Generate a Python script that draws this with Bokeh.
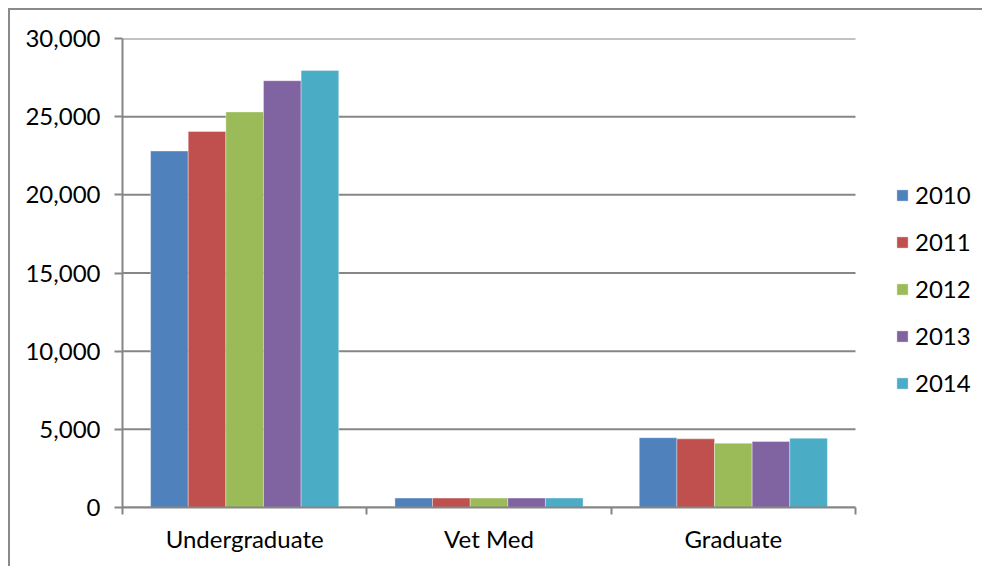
import numpy as np
from bokeh.plotting import figure
from bokeh.models import (ColumnDataSource, Range1d, FixedTicker, NumeralTickFormatter,
                          Legend, LegendItem)
from bokeh.embed import file_html
from bokeh.resources import INLINE

categories = ["Undergraduate", "Vet Med", "Graduate"]
years = ["2010", "2011", "2012", "2013", "2014"]
values = {
    "2010": [22800, 600, 4460],
    "2011": [24050, 600, 4390],
    "2012": [25300, 600, 4110],
    "2013": [27300, 600, 4220],
    "2014": [27950, 600, 4430],
}
colors = ["#4F81BD", "#C0504D", "#9BBB59", "#8064A2", "#4BACC6"]
y_ticks = [0, 5000, 10000, 15000, 20000, 25000, 30000]

FONT = "Lato"
GRAY = "#868686"
n = len(categories)

# frame extends to the right edge so the legend can sit inside it
p = figure(width=976, height=558, output_backend="svg", toolbar_location=None,
           x_range=Range1d(0, n * 864 / 733), y_range=Range1d(0, 30000),
           min_border_left=112, min_border_right=0, min_border_top=28,
           min_border_bottom=61)
p.outline_line_color = None
p.styles = {"border-top": "2px solid #8a8a8a", "border-left": "2px solid #8a8a8a",
            "margin-left": "8px", "margin-top": "8px"}

# gridlines limited to the category span
p.xgrid.grid_line_color = None
p.ygrid.grid_line_color = None
p.segment(x0=0, x1=n, y0=y_ticks, y1=y_ticks, line_color=GRAY, line_width=2,
          level="underlay")

bar_w = 0.154
centers = np.arange(n) + 0.5
items = []
for i, (yr, col) in enumerate(zip(years, colors)):
    src = ColumnDataSource(dict(x=centers + (i - 2) * bar_w, top=values[yr]))
    r = p.vbar(x="x", top="top", width=bar_w, source=src, fill_color=col,
               line_color="white", line_alpha=0.5, line_width=0.7)
    items.append(LegendItem(label=yr, renderers=[r]))

# y axis
p.yaxis.ticker = FixedTicker(ticks=y_ticks)
p.yaxis.formatter = NumeralTickFormatter(format="0,0")
p.yaxis.axis_line_color = GRAY
p.yaxis.axis_line_width = 2
p.yaxis.major_tick_line_color = GRAY
p.yaxis.major_tick_line_width = 2
p.yaxis.major_tick_out = 8
p.yaxis.major_tick_in = 0
p.yaxis.minor_tick_line_color = None
p.yaxis.major_label_text_font = FONT
p.yaxis.major_label_text_font_size = "24px"
p.yaxis.major_label_text_color = "black"
p.yaxis.major_label_standoff = 14

# x axis: labels at centers, ticks at boundaries (minor ticks)
p.xaxis.bounds = (0, n)
p.xaxis.ticker = FixedTicker(ticks=list(centers), minor_ticks=list(range(n + 1)))
p.xaxis.major_label_overrides = {float(c): name for c, name in zip(centers, categories)}
p.xaxis.axis_line_color = GRAY
p.xaxis.axis_line_width = 2
p.xaxis.major_tick_line_color = None
p.xaxis.major_tick_out = 0
p.xaxis.major_tick_in = 0
p.xaxis.minor_tick_line_color = GRAY
p.xaxis.minor_tick_line_width = 2
p.xaxis.minor_tick_out = 7
p.xaxis.minor_tick_in = 0
p.xaxis.major_label_text_font = FONT
p.xaxis.major_label_text_font_size = "24px"
p.xaxis.major_label_text_color = "black"
p.xaxis.major_label_standoff = 9

legend = Legend(items=items, location=(773, 110), border_line_color=None,
                background_fill_alpha=0, label_text_font=FONT,
                label_text_font_size="24px", label_text_color="black",
                glyph_width=14, glyph_height=14, label_standoff=6, spacing=18,
                padding=0, margin=0, label_height=24)
p.add_layout(legend)

open("out.html", "w").write(file_html(p, INLINE))
